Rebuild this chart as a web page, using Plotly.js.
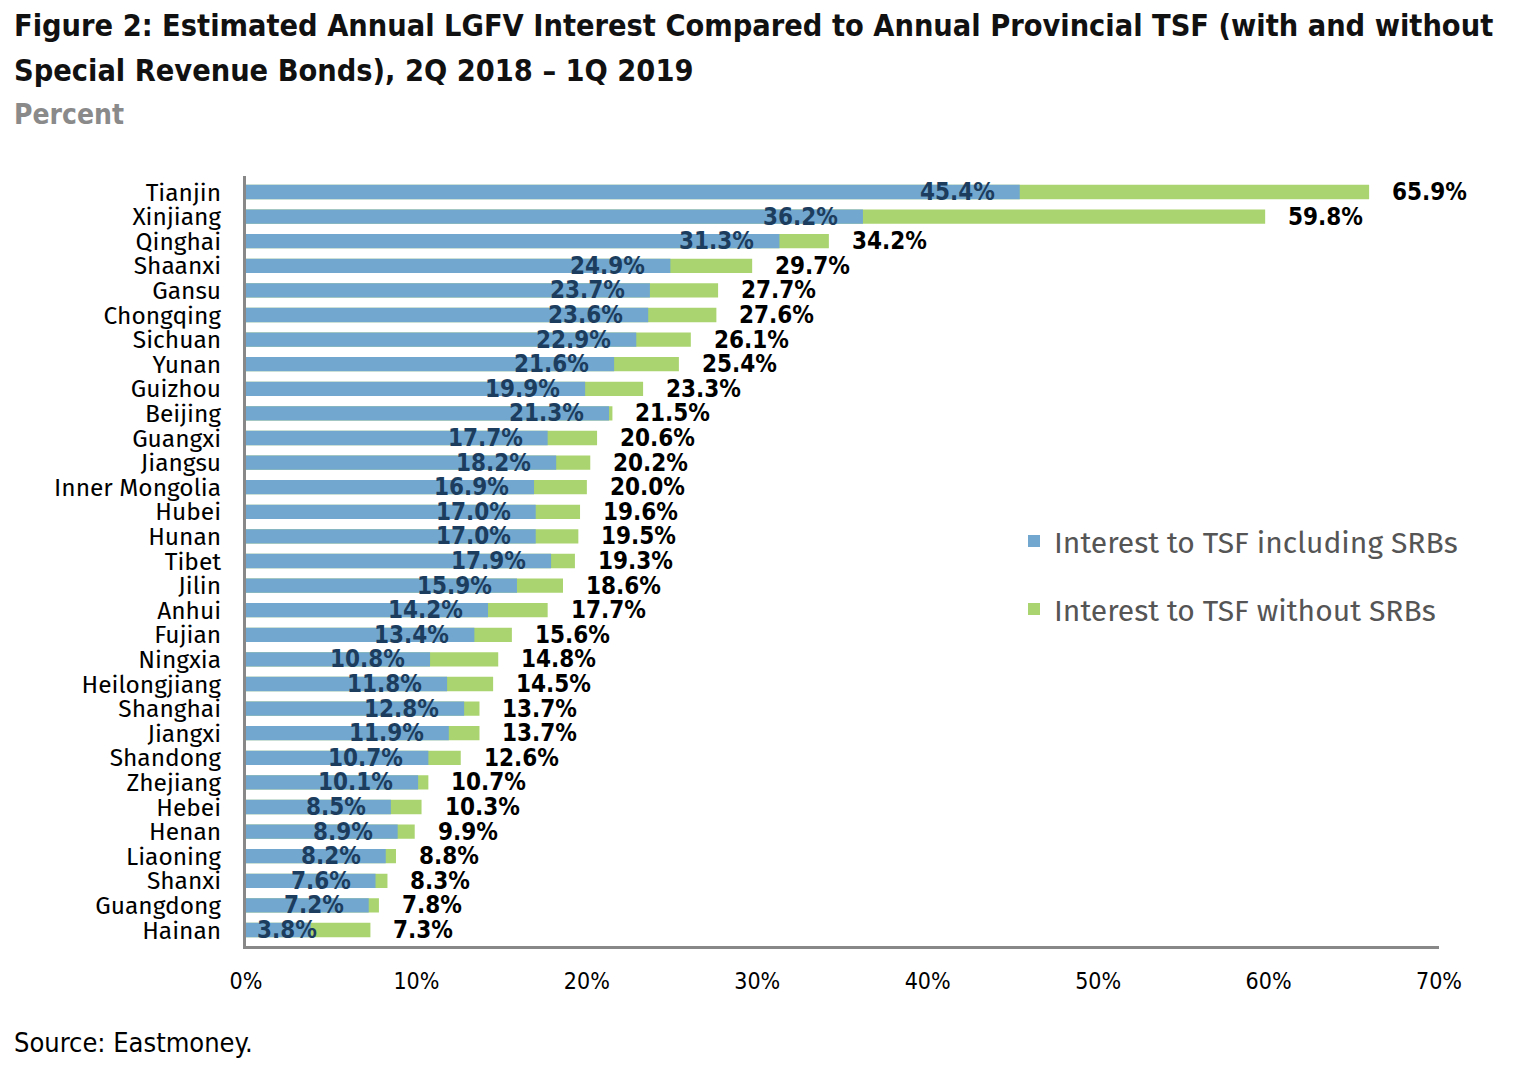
<!DOCTYPE html>
<html>
<head>
<meta charset="utf-8">
<script src="https://cdn.plot.ly/plotly-3.0.1.min.js"></script>
<style>html,body{margin:0;padding:0;background:#fff}#chart{width:1514px;height:1070px}</style>
</head>
<body>
<div id="chart"></div>
<script>
const provinces = ["Tianjin","Xinjiang","Qinghai","Shaanxi","Gansu","Chongqing","Sichuan","Yunan","Guizhou","Beijing","Guangxi","Jiangsu","Inner Mongolia","Hubei","Hunan","Tibet","Jilin","Anhui","Fujian","Ningxia","Heilongjiang","Shanghai","Jiangxi","Shandong","Zhejiang","Hebei","Henan","Liaoning","Shanxi","Guangdong","Hainan"];
const withSRBs = [45.4,36.2,31.3,24.9,23.7,23.6,22.9,21.6,19.9,21.3,17.7,18.2,16.9,17.0,17.0,17.9,15.9,14.2,13.4,10.8,11.8,12.8,11.9,10.7,10.1,8.5,8.9,8.2,7.6,7.2,3.8];
const withoutSRBs = [65.9,59.8,34.2,29.7,27.7,27.6,26.1,25.4,23.3,21.5,20.6,20.2,20.0,19.6,19.5,19.3,18.6,17.7,15.6,14.8,14.5,13.7,13.7,12.6,10.7,10.3,9.9,8.8,8.3,7.8,7.3];
const xTicks = [0,10,20,30,40,50,60,70];
const xTickLabels = ["0%","10%","20%","30%","40%","50%","60%","70%"];
const titleLines = ["Figure 2: Estimated Annual LGFV Interest Compared to Annual Provincial TSF (with and without",
                    "Special Revenue Bonds), 2Q 2018 – 1Q 2019"];

const L = 246, R = 75, T = 176, B = 124, W = 1514, H = 1070;
const plotW = W - L - R, plotH = H - T - B;
const pxPerUnit = plotW / 70;
const fmt = v => v.toFixed(1) + "%";
const cond = "DejaVu Sans Condensed, Liberation Sans Narrow, Arial Narrow, sans-serif";
const py = ypx => (H - B - ypx) / plotH;
const px = xpx => (xpx - L) / plotW;

const traces = [
  {type:"bar", orientation:"h", name:"Interest to TSF without SRBs", y:provinces, x:withoutSRBs,
   marker:{color:"#aad46f"}, width:0.58, legendrank:2, legendgroup:"b", hoverinfo:"x+y"},
  {type:"bar", orientation:"h", name:"Interest to TSF including SRBs", y:provinces, x:withSRBs,
   marker:{color:"#72a8d0"}, width:0.58, legendrank:1, legendgroup:"a", hoverinfo:"x+y"}
];

const LBL = 24;
const annotations = [];
provinces.forEach((p,i) => {
  const v = withSRBs[i];
  const txt = fmt(v);
  const estW = ((txt.length - 2) * 0.626 + 0.342 + 0.9) * LBL;
  const startPx = v*pxPerUnit - 24 - estW;
  const f = {family:cond, size:LBL, color:"#1d3d5e", weight:"bold"};
  if (startPx < 9) {
    annotations.push({x:0, y:p, xref:"x", yref:"y", text:txt, showarrow:false, xanchor:"left", xshift:9, font:f});
  } else {
    annotations.push({x:v, y:p, xref:"x", yref:"y", text:txt, showarrow:false, xanchor:"right", xshift:-23, font:f});
  }
  annotations.push({x:withoutSRBs[i], y:p, xref:"x", yref:"y", text:fmt(withoutSRBs[i]), showarrow:false, xanchor:"left", xshift:21,
    font:{family:cond, size:LBL, color:"#000", weight:"bold"}});
});
annotations.push({xref:"paper", yref:"paper", x:px(12), y:py(25), xanchor:"left", yanchor:"middle",
  text:"<b>"+titleLines[0]+"</b>", showarrow:false, font:{family:cond, size:30.4, color:"#111"}});
annotations.push({xref:"paper", yref:"paper", x:px(12), y:py(70), xanchor:"left", yanchor:"middle",
  text:"<b>"+titleLines[1]+"</b>", showarrow:false, font:{family:cond, size:30.4, color:"#111"}});
annotations.push({xref:"paper", yref:"paper", x:px(12), y:py(115), xanchor:"left", yanchor:"middle",
  text:"<b>Percent</b>", showarrow:false, font:{family:cond, size:28, color:"#8a8a8a"}});
annotations.push({xref:"paper", yref:"paper", x:px(12), y:py(1042), xanchor:"left", yanchor:"middle",
  text:"Source: Eastmoney.", showarrow:false, font:{family:cond, size:27, color:"#000"}});

const layout = {
  width:W, height:H,
  margin:{l:L, r:R, t:T, b:B, pad:0},
  paper_bgcolor:"#fff", plot_bgcolor:"#fff",
  barmode:"overlay",
  xaxis:{range:[0,70], tickvals:xTicks, ticktext:xTickLabels, showgrid:false, zeroline:false,
    showline:true, linecolor:"#888", linewidth:3, ticks:"", ticklabelstandoff:12,
    tickfont:{family:cond, size:23, color:"#000"}, fixedrange:true},
  yaxis:{autorange:"reversed", dtick:1, tickmode:"linear", showgrid:false, zeroline:false, showline:true, linecolor:"#888", linewidth:3,
    ticks:"", ticklabelstandoff:17, tickfont:{family:"Fira Sans, Open Sans, sans-serif", size:24.5, color:"#000"}, fixedrange:true},
  legend:{x:px(1014), xanchor:"left", y:py(575), yanchor:"middle", traceorder:"grouped",
    tracegroupgap:26, itemwidth:30, bgcolor:"rgba(0,0,0,0)",
    font:{family:"Fira Sans, Open Sans, sans-serif", size:30, color:"#555"}},
  showlegend:true,
  annotations:annotations
};

Plotly.newPlot("chart", traces, layout, {displayModeBar:false, staticPlot:true});
</script>
</body>
</html>
